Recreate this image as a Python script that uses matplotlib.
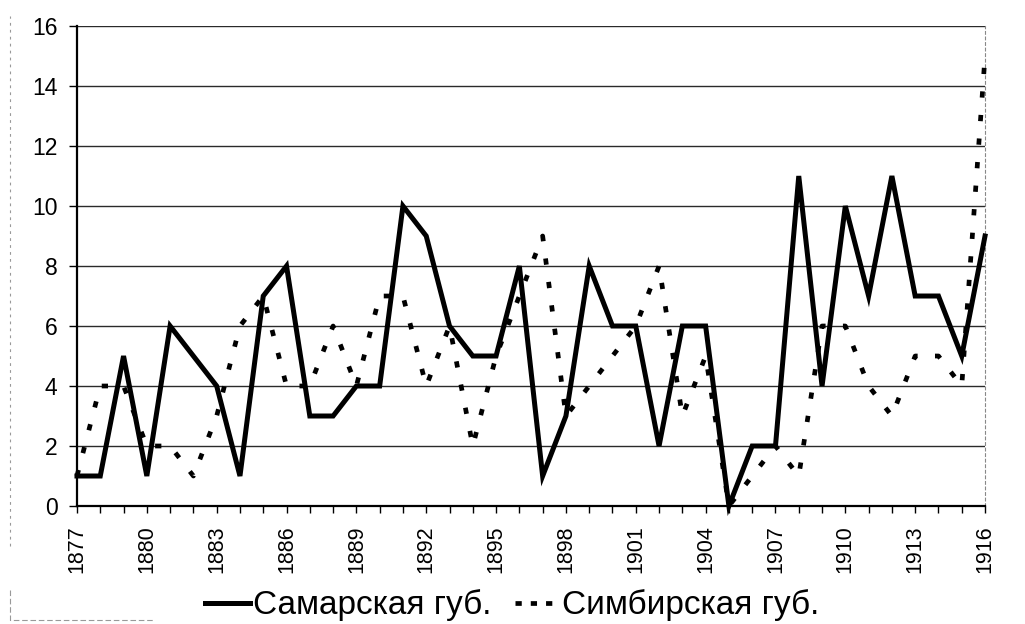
import matplotlib
matplotlib.use("Agg")
import matplotlib.pyplot as plt
from matplotlib.lines import Line2D

plt.rcParams["font.family"] = ["Liberation Sans", "DejaVu Sans"]
plt.rcParams["lines.scale_dashes"] = False

# ---- data ----
years = list(range(1877, 1917))
samara = [1, 1, 5, 1, 6, 5, 4, 1, 7, 8,
          3, 3, 4, 4, 10, 9, 6, 5, 5, 8,
          1, 3, 8, 6, 6, 2, 6, 6, 0, 2,
          2, 11, 4, 10, 7, 11, 7, 7, 5, 9]
simbirsk = [1, 4, 4, 2, 2, 1, 3, 6, 7, 4,
            4, 6, 4, 7, 7, 4, 6, 2, 5, 7,
            9, 3, 4, 5, 6, 8, 3, 5, 0, 1,
            2, 1, 6, 6, 4, 3, 5, 5, 4, 15]
labelled_years = years[::3]
y_ticks = list(range(0, 17, 2))
series_names = ["Самарская губ.", "Симбирская губ."]

fig = plt.figure(figsize=(10.25, 6.24), dpi=100)
ax = fig.add_axes([0.0751, 0.1891, 0.8859, 0.7692])

dash = (0, (4.5, 12.5))
ax.plot(years, samara, color="black", lw=3.6, solid_joinstyle="miter",
        clip_on=False, zorder=4)
ax.plot(years, simbirsk, color="black", lw=3.4, linestyle=dash,
        dash_capstyle="butt", clip_on=False, zorder=3)

ax.set_xlim(years[0], years[-1])
ax.set_ylim(0, 16)
ax.set_yticks(y_ticks)
ax.set_yticklabels([str(v) for v in y_ticks], fontsize=16.5)
ax.set_xticks(years)
ax.set_xticklabels([str(y) if y in labelled_years else "" for y in years],
                   rotation=90, fontsize=15.5)
ax.tick_params(axis="x", direction="out", length=5, width=1, pad=9)
ax.tick_params(axis="y", direction="out", length=6, width=1, pad=8)

ax.grid(axis="y", color="#2a2a2a", lw=1.0)
ax.set_axisbelow(True)
ax.spines["left"].set_linewidth(1.6)
ax.spines["bottom"].set_linewidth(1.6)
ax.spines["top"].set_visible(False)
ax.spines["right"].set_color("#888888")
ax.spines["right"].set_linestyle((0, (2, 2)))
ax.spines["right"].set_linewidth(0.8)

# faint outer border of the original chart area (scan remnants)
fig.add_artist(Line2D([0.0098, 0.0098], [0.125, 0.975], color="#999999",
                      lw=0.8, linestyle=(0, (2, 3))))
fig.add_artist(Line2D([0.0098, 0.0098, 0.151], [0.055, 0.006, 0.006],
                      color="#999999", lw=0.8, linestyle=(0, (4, 2))))

handles = [Line2D([], [], color="black", lw=3.6),
           Line2D([], [], color="black", lw=3.4, linestyle=(0, (4.5, 6.5)))]
fig.legend(handles, series_names, loc="center", bbox_to_anchor=(0.5, 0.03),
           ncol=2, frameon=False, fontsize=24, handlelength=1.35,
           handletextpad=0.08, columnspacing=0.7)

fig.savefig("out.png", dpi=100)
